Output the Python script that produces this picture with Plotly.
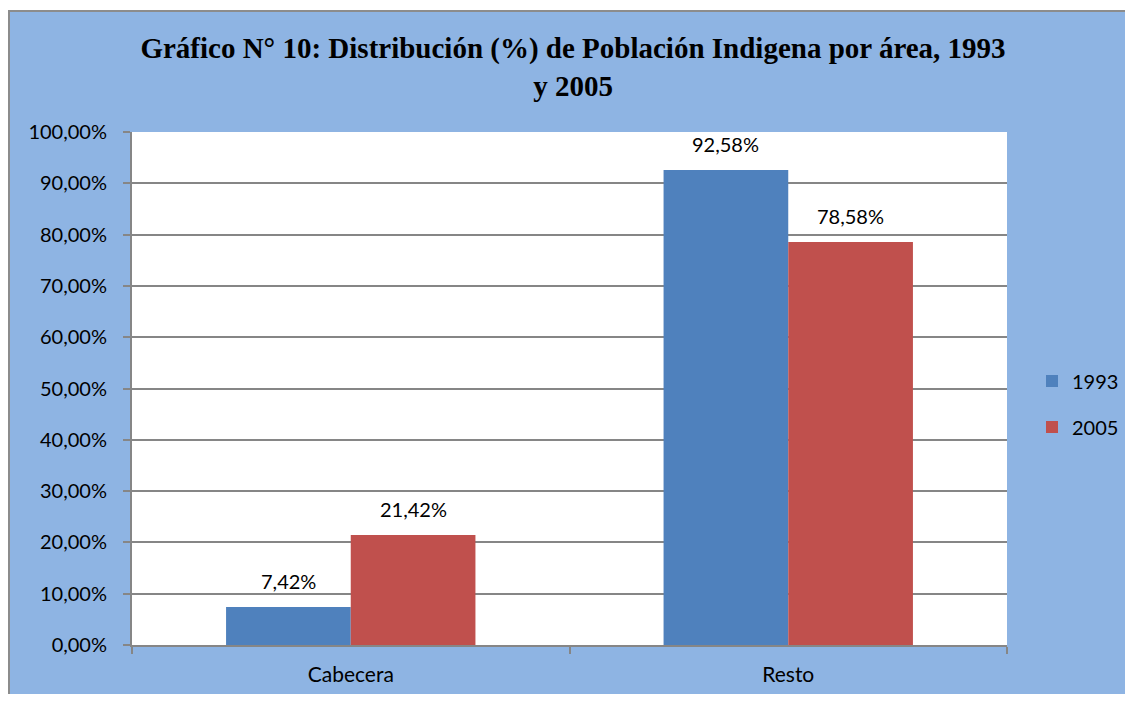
import plotly.graph_objects as go

# Datos
categorias = ["Cabecera", "Resto"]
anios = ["1993", "2005"]
valores_1993 = [7.42, 92.58]
valores_2005 = [21.42, 78.58]

colores = {"1993": "#4F81BD", "2005": "#C0504D"}
fuente = "Lato, Carlito, Calibri, sans-serif"

# la página deja 8px de margen alrededor del gráfico
OFF = 8
W, H = 1133 - 2 * OFF, 702 - 2 * OFF
L, R, T, B = 132 - OFF, 1007 - OFF, 132 - OFF, 645 - OFF


def px_x(p):
    return (p - OFF - L) / (R - L)


def px_y(p):
    return (B - (p - OFF)) / (B - T)


fig = go.Figure()
for i, (anio, vals) in enumerate(zip(anios, [valores_1993, valores_2005])):
    fig.add_trace(go.Bar(
        x=categorias, y=vals, name=anio, legendgroup=anio,
        marker=dict(color=colores[anio], line=dict(width=0)),
    ))
    # etiquetas de datos encima de cada barra
    for cat, v in zip(categorias, vals):
        fig.add_annotation(
            x=cat, y=v, text=f"{v:.2f}%".replace(".", ","),
            xshift=(-62.5 if i == 0 else 62.5), yshift=12,
            yanchor="bottom", showarrow=False,
            font=dict(size=20, color="black", family=fuente),
        )

# franja blanca arriba y bordes grises
fig.add_shape(type="rect", xref="paper", yref="paper",
              x0=px_x(0), x1=px_x(1140), y0=px_y(11), y1=px_y(0),
              fillcolor="white", line=dict(width=0), layer="below")
fig.add_shape(type="line", xref="paper", yref="paper",
              x0=px_x(8), x1=px_x(1140), y0=px_y(11), y1=px_y(11),
              line=dict(color="#8C8C8C", width=2), layer="below")
fig.add_shape(type="line", xref="paper", yref="paper",
              x0=px_x(9), x1=px_x(9), y0=px_y(11), y1=px_y(710),
              line=dict(color="#8C8C8C", width=2), layer="below")

fig.update_layout(
    width=W, height=H,
    paper_bgcolor="#8EB4E3",
    plot_bgcolor="white",
    separators=",.",
    barmode="group",
    bargap=0.43,
    bargroupgap=0,
    margin=dict(l=L, r=W - R, t=T, b=H - B, autoexpand=False),
    title=dict(
        text="<b>Gráfico N° 10: Distribución (%) de Población Indigena por área, 1993<br>y 2005</b>",
        x=px_x(573), xref="paper", xanchor="center",
        y=1 - 50 / H, yanchor="top",
        font=dict(family="Liberation Serif, Times New Roman, serif", size=29, color="black"),
    ),
    font=dict(family=fuente, size=20, color="black"),
    legend=dict(
        x=px_x(1032), xanchor="left", y=px_y(404), yanchor="middle",
        bgcolor="rgba(0,0,0,0)", font=dict(size=20, family=fuente),
        itemwidth=30, tracegroupgap=17,
    ),
    xaxis=dict(
        showline=True, linecolor="#868686", linewidth=2,
        ticks="outside", tickson="boundaries", ticklen=7, tickcolor="#868686", tickwidth=2,
        tickfont=dict(size=21, family=fuente), showgrid=False, ticklabelstandoff=10,
    ),
    yaxis=dict(
        range=[0, 100], dtick=10, tickformat=".2f", ticksuffix="%",
        showline=True, linecolor="#868686", linewidth=2,
        ticks="outside", ticklen=7, tickcolor="#868686", tickwidth=2,
        gridcolor="#868686", gridwidth=1.5, zeroline=False,
        tickfont=dict(size=20, family=fuente), ticklabelstandoff=12,
    ),
)

fig.write_html("out.html")
